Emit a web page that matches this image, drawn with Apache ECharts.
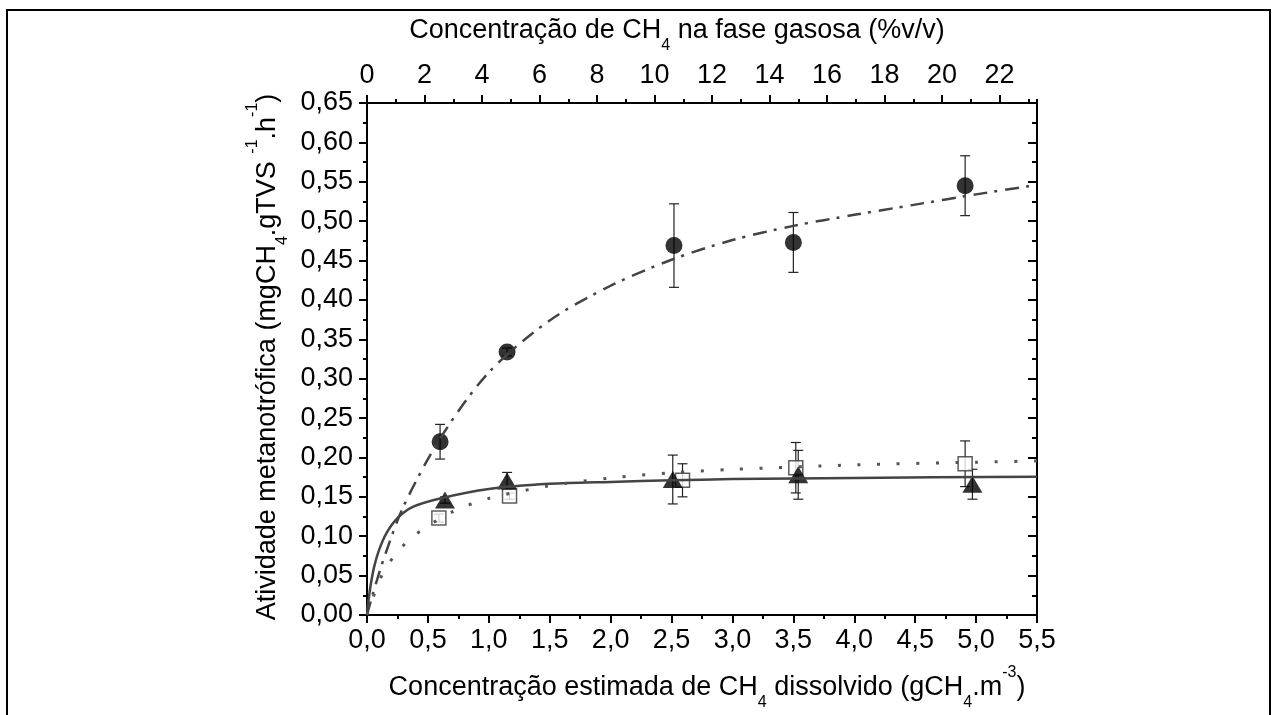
<!DOCTYPE html>
<html>
<head>
<meta charset="utf-8">
<script src="https://cdn.jsdelivr.net/npm/echarts@6/dist/echarts.min.js"></script>
<style>html,body{margin:0;padding:0;background:#fff;}#c{width:1277px;height:715px;}</style>
</head>
<body>
<div id="c"></div>
<script>
// ---- data ----
const circX = [0.60, 1.15, 2.52, 3.50, 4.91];
const circY = [0.220, 0.334, 0.469, 0.473, 0.545];
const circErr = [0.022, 0.005, 0.053, 0.038, 0.038];

const triX = [0.64, 1.15, 2.51, 3.54, 4.97];
const triY = [0.146, 0.170, 0.172, 0.178, 0.166];
const triErr = [0.004, 0.011, 0.031, 0.031, 0.019];

const sqX = [0.59, 1.17, 2.59, 3.52, 4.91];
const sqY = [0.123, 0.151, 0.171, 0.187, 0.192];
const sqErr = [0.005, 0.004, 0.021, 0.032, 0.029];

const fitCircX = [0, 0.05, 0.15, 0.3, 0.6, 1.0, 1.5, 2.0, 2.5, 3.0, 3.5, 4.0, 4.5, 5.0, 5.5];
const fitCircY = [0, 0.028, 0.077, 0.138, 0.224, 0.308, 0.374, 0.418, 0.451, 0.476, 0.494, 0.508, 0.521, 0.534, 0.546];

const fitTriX = [0, 0.01, 0.03, 0.06, 0.1, 0.16, 0.25, 0.38, 0.6, 1.0, 1.5, 2.0, 2.5, 3.0, 4.0, 5.5];
const fitTriY = [0, 0.015, 0.038, 0.062, 0.083, 0.104, 0.123, 0.1375, 0.148, 0.160, 0.1665, 0.169, 0.171, 0.1725, 0.174, 0.1756];

const fitSqX = [0, 0.03, 0.13, 0.23, 0.38, 0.7, 1.0, 1.5, 2.0, 2.5, 3.0, 4.0, 5.0, 5.5];
const fitSqY = [0, 0.014, 0.053, 0.076, 0.100, 0.131, 0.148, 0.164, 0.174, 0.1806, 0.1848, 0.1905, 0.194, 0.1955];

const bottomTitle = '{n|Concentração estimada de CH}{s|4}{n| dissolvido (gCH}{s|4}{n|.m}{p|-3}{n|)}';
const topTitle = '{n|Concentração de CH}{s|4}{n| na fase gasosa (%v/v)}';
const leftTitle = '{n|Atividade metanotrófica (mgCH}{s|4}{n|.gTVS }{p|-1}{n|.h}{p|-1}{n|)}';

// ---- helpers ----
const FONT = '"Liberation Sans", Arial, sans-serif';
const zip = (a, b) => a.map((v, i) => [v, b[i]]);
const zip3 = (a, b, c) => a.map((v, i) => [v, b[i], c[i]]);
const comma = d => v => v.toFixed(d).replace('.', ',');
const rich = {
  n: { fontSize: 27, lineHeight: 46, fontFamily: FONT, color: '#000' },
  s: { fontSize: 16, lineHeight: 13, verticalAlign: 'bottom', fontFamily: FONT, color: '#000' },
  p: { fontSize: 16, lineHeight: 32, verticalAlign: 'top', fontFamily: FONT, color: '#000' }
};
const axLine = { show: true, onZero: false, lineStyle: { color: '#000', width: 2 } };
const tickStyle = { color: '#000', width: 2 };
const lbl = { fontSize: 27, color: '#000', fontFamily: FONT };

function errRender(params, api) {
  const x = api.value(0), y = api.value(1), e = api.value(2);
  const t = api.coord([x, y + e]), b = api.coord([x, y - e]);
  const w = 5;
  const st = { stroke: '#222', lineWidth: 1.2 };
  return { type: 'group', children: [
    { type: 'line', shape: { x1: t[0], y1: t[1], x2: b[0], y2: b[1] }, style: st },
    { type: 'line', shape: { x1: t[0] - w, y1: t[1], x2: t[0] + w, y2: t[1] }, style: st },
    { type: 'line', shape: { x1: b[0] - w, y1: b[1], x2: b[0] + w, y2: b[1] }, style: st }
  ]};
}
function errSeries(x, y, e) {
  return { type: 'custom', xAxisIndex: 0, yAxisIndex: 0, renderItem: errRender,
    data: zip3(x, y, e), encode: { x: 0, y: 1 }, z: 3, silent: true };
}

const chart = echarts.init(document.getElementById('c'), null, { renderer: 'canvas' });
chart.setOption({
  backgroundColor: '#fff',
  animation: false,
  grid: { left: 367, right: 240, top: 103, bottom: 100, show: false },
  xAxis: [
    { type: 'value', position: 'bottom', min: 0, max: 5.5, interval: 0.5,
      axisLine: axLine, axisTick: { show: true, length: 8, lineStyle: tickStyle },
      minorTick: { show: true, splitNumber: 2, length: 4, lineStyle: tickStyle },
      splitLine: { show: false }, minorSplitLine: { show: false },
      axisLabel: Object.assign({ formatter: comma(1), margin: 12 }, lbl) },
    { type: 'value', position: 'top', min: 0, max: 23.3, interval: 2,
      axisLine: axLine, axisTick: { show: true, length: 8, lineStyle: tickStyle },
      splitLine: { show: false },
      axisLabel: Object.assign({ formatter: v => String(Math.round(v)), margin: 14, showMaxLabel: false }, lbl) },
    { type: 'value', position: 'top', min: 0, max: 23.3, interval: 1,
      axisLine: { show: false, onZero: false }, axisTick: { show: true, length: 4, lineStyle: tickStyle },
      splitLine: { show: false }, axisLabel: { show: false } }
  ],
  yAxis: [
    { type: 'value', position: 'left', min: 0, max: 0.65, interval: 0.05,
      axisLine: axLine, axisTick: { show: true, length: 8, lineStyle: tickStyle },
      minorTick: { show: true, splitNumber: 2, length: 4, lineStyle: tickStyle },
      splitLine: { show: false }, minorSplitLine: { show: false },
      axisLabel: Object.assign({ formatter: comma(2), margin: 14 }, lbl) },
    { type: 'value', position: 'right', min: 0, max: 0.65, interval: 0.05,
      axisLine: axLine, axisTick: { show: true, inside: true, length: 9, lineStyle: tickStyle },
      minorTick: { show: true, splitNumber: 2, length: 5, lineStyle: tickStyle },
      splitLine: { show: false }, minorSplitLine: { show: false },
      axisLabel: { show: false } }
  ],
  series: [
    errSeries(circX, circY, circErr),
    errSeries(triX, triY, triErr),
    errSeries(sqX, sqY, sqErr),
    { type: 'scatter', data: zip(sqX, sqY), symbol: 'rect', symbolSize: 14, z: 4,
      itemStyle: { color: '#fff', borderColor: '#333', borderWidth: 1.5 } },
    { type: 'scatter', data: zip(circX, circY), symbol: 'circle', symbolSize: 17, z: 4,
      itemStyle: { color: '#000' } },
    { type: 'scatter', data: zip(triX, triY), symbol: 'triangle', symbolSize: [20, 17], z: 4,
      itemStyle: { color: '#000' } },
    { type: 'line', data: zip(fitCircX, fitCircY), showSymbol: false, smooth: 0.3, z: 5,
      lineStyle: { color: '#444', width: 2.5, type: [14, 7, 3, 8] } },
    { type: 'line', data: zip(fitTriX, fitTriY), showSymbol: false, smooth: 0.3, z: 5,
      lineStyle: { color: '#444', width: 2.5, type: 'solid' } },
    { type: 'line', data: zip(fitSqX, fitSqY), showSymbol: false, smooth: 0.3, z: 5,
      lineStyle: { color: '#555', width: 3, type: [3, 16.6] } }
  ],
  graphic: [
    { type: 'rect', shape: { x: 7, y: 10, width: 1263, height: 720 }, style: { fill: 'none', stroke: '#000', lineWidth: 2 }, z: 100 },
    { type: 'text', x: 677, y: 31, style: { text: topTitle, rich: rich, align: 'center', verticalAlign: 'middle' } },
    { type: 'text', x: 707, y: 688, style: { text: bottomTitle, rich: rich, align: 'center', verticalAlign: 'middle' } },
    { type: 'text', x: 268, y: 357, rotation: Math.PI / 2, style: { text: leftTitle, rich: rich, align: 'center', verticalAlign: 'middle' } }
  ]
});
</script>
</body>
</html>
